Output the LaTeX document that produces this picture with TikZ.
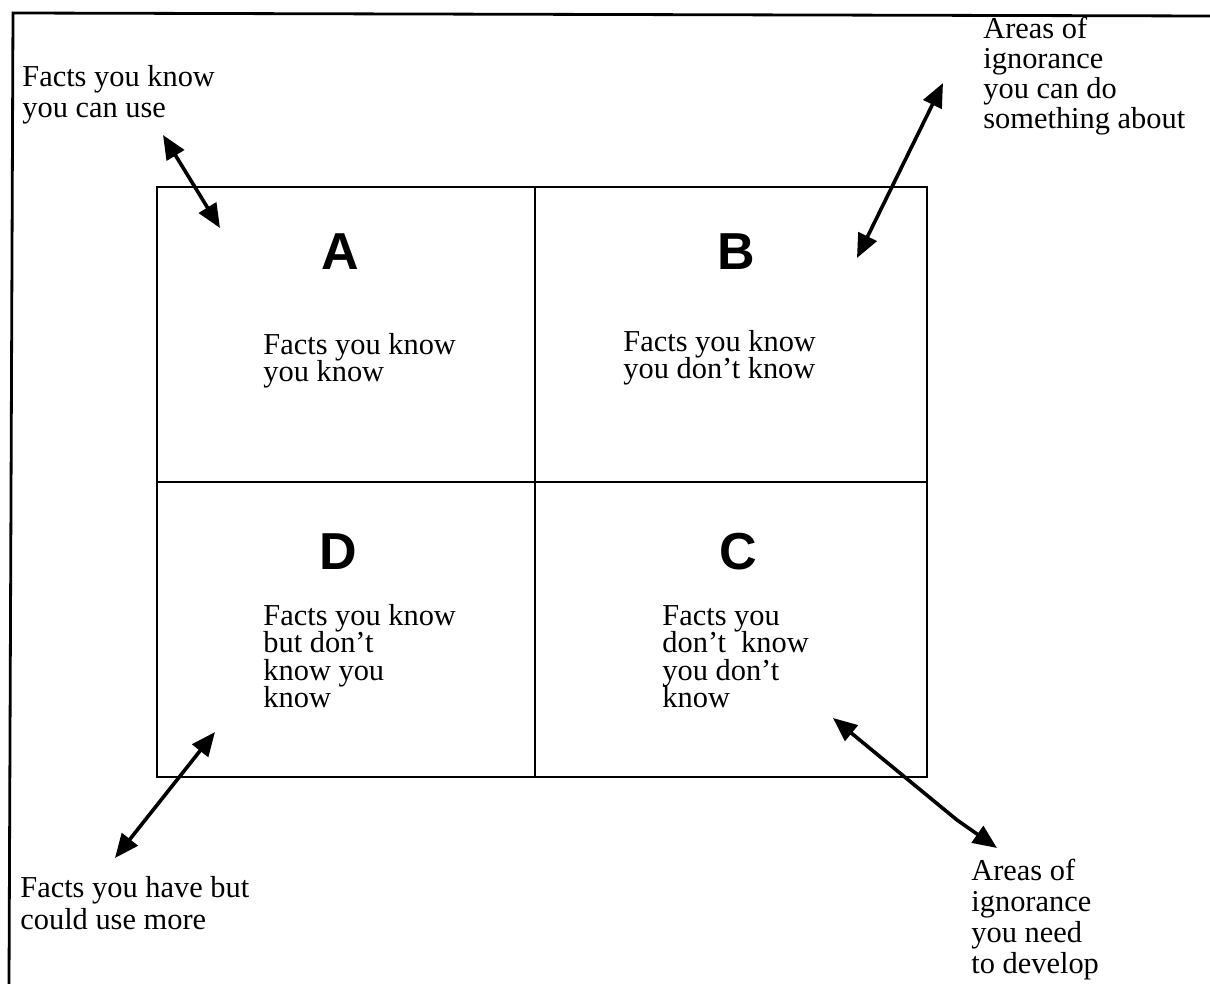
\documentclass[tikz,border=0pt]{standalone}
\usepackage{fontspec}
\setmainfont{Liberation Serif}
\newfontfamily\hvfont{Liberation Sans}
\usetikzlibrary{arrows.meta}
\newcommand\mlines[2]{\vtop{\baselineskip=#1\lineskip=0pt\lineskiplimit=-50pt\halign{##\hfil\cr#2\crcr}}}
\begin{document}
\begin{tikzpicture}[x=0.5pt,y=-0.5pt,
  gridline/.style={line width=1.4pt, line cap=rect},
  frameline/.style={line width=1.4pt},
  letter/.style={font=\hvfont\bfseries\fontsize{26}{26}\selectfont, inner sep=0pt, anchor=base},
  body/.style={font=\fontsize{15.2}{14}\selectfont, inner sep=0pt, anchor=base west},
  dblarrow/.style={line width=1.8pt, line join=round,
    {Triangle[length=12pt,width=10pt]}-{Triangle[length=12pt,width=10pt]}}]
\useasboundingbox (0,0) rectangle (1210,984);
% outer frame (left and top edges)
\coordinate (fbl) at (9,984);
\coordinate (ftl) at (13,13);
\coordinate (ftr) at (1210,16);
\draw[frameline] (fbl) -- (ftl) -- (ftr);
% grid
\coordinate (gtl) at (157,187);
\coordinate (gbr) at (927,777);
\coordinate (gmt) at (535,187);
\coordinate (gmb) at (535,777);
\coordinate (gml) at (157,482);
\coordinate (gmr) at (927,482);
\draw[gridline] (gtl) rectangle (gbr);
\draw[gridline] (gmt) -- (gmb);
\draw[gridline] (gml) -- (gmr);
% quadrant letters
\node[letter] (la) at (340,270) {A};
\node[letter] (lb) at (736,270) {B};
\node[letter] (ld) at (338,569) {D};
\node[letter] (lc) at (738,569) {C};
% quadrant texts
\node[body] (ta) at (263,354) {\mlines{13.8pt}{Facts you know\cr you know}};
\node[body] (tb) at (623,351) {\mlines{13.8pt}{Facts you know\cr you don’t know}};
\node[body] (td) at (263,625) {\mlines{13.8pt}{Facts you know\cr but don’t\cr know you\cr know}};
\node[body] (tc) at (662,625) {\mlines{13.8pt}{Facts you\cr don’t\ \ know\cr you don’t\cr know}};
% outside labels
\node[body] (otl) at (22,87) {\mlines{15.5pt}{Facts you know\cr you can use}};
\node[body] (otr) at (983,39) {\mlines{15pt}{Areas of\cr ignorance\cr you can do\cr something about}};
\node[body] (obl) at (20,897) {\mlines{16pt}{Facts you have but\cr could use more}};
\node[body] (obr) at (971,880) {\mlines{15.5pt}{Areas of\cr ignorance\cr you need\cr to develop}};
% arrows
\coordinate (aa1) at (163,135);
\coordinate (aa2) at (220,228);
\coordinate (ab1) at (943,83);
\coordinate (ab2) at (857,258);
\coordinate (ad1) at (215,732);
\coordinate (ad2) at (115,858);
\coordinate (ac1) at (833,718);
\coordinate (acm) at (957,820);
\coordinate (ac2) at (997,848);
\draw[dblarrow] (aa1) -- (aa2);
\draw[dblarrow] (ab1) -- (ab2);
\draw[dblarrow] (ad1) -- (ad2);
\draw[dblarrow] (ac1) -- (acm) -- (ac2);
\end{tikzpicture}
\end{document}
